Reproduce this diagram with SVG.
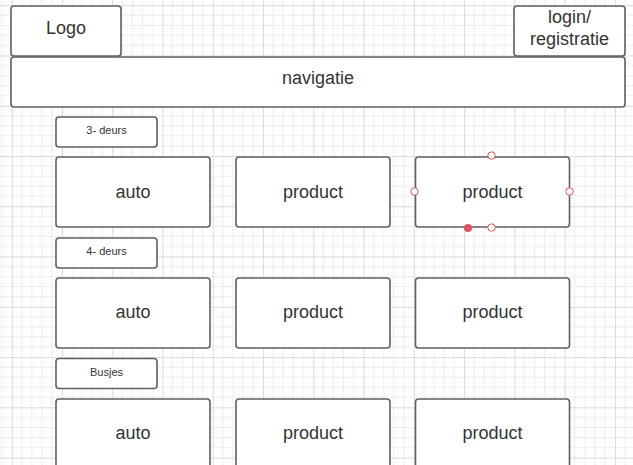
<svg xmlns="http://www.w3.org/2000/svg" width="633" height="465" viewBox="0 0 633 465">
<style>
.box{fill:#fff;stroke:#5f5f5f;stroke-width:1.6}
.t{font-family:"Liberation Sans",Arial,sans-serif;font-size:18px;fill:#333;text-anchor:middle}
.s{font-family:"Liberation Sans",Arial,sans-serif;font-size:11px;fill:#333;text-anchor:middle}
.h{fill:#fff;stroke:#e0525f;stroke-width:1}
</style>
<defs>
<pattern id="grid" x="11.7" y="5.2" width="50.27" height="50.27" patternUnits="userSpaceOnUse">
<path d="M10.05 0V50.27M20.1 0V50.27M30.16 0V50.27M40.21 0V50.27M0 10.05H50.27M0 20.1H50.27M0 30.16H50.27M0 40.21H50.27" stroke="#ececec" stroke-width="1" fill="none"/>
<path d="M0.5 0V50.27M0 0.5H50.27" stroke="#dadada" stroke-width="1" fill="none"/>
</pattern>
</defs>
<rect width="633" height="465" fill="#fff"/>
<rect width="633" height="465" fill="url(#grid)"/>
<g id="logo"><rect class="box" x="11" y="6" width="110" height="50" rx="3"/><text class="t" x="66" y="34">Logo</text></g>
<g id="login"><rect class="box" x="514" y="6" width="111" height="50" rx="3"/><text class="t" x="569.5" y="23">login/</text><text class="t" x="569.5" y="45">registratie</text></g>
<g id="navigatie"><rect class="box" x="11" y="57" width="614" height="50" rx="3"/><text class="t" x="318" y="84">navigatie</text></g>
<g id="label-3deurs"><rect class="box" x="56" y="117" width="101" height="30" rx="3"/><text class="s" x="106.5" y="134">3- deurs</text></g>
<g id="auto-1"><rect class="box" x="56" y="157" width="154" height="70" rx="3"/><text class="t" x="133" y="198">auto</text></g>
<g id="product-1-2"><rect class="box" x="236" y="157" width="154" height="70" rx="3"/><text class="t" x="313" y="198">product</text></g>
<g id="product-1-3"><rect class="box" x="415.5" y="157" width="154" height="70" rx="3"/><text class="t" x="492.5" y="198">product</text>
<circle class="h" cx="491.5" cy="155.5" r="3.7"/><circle class="h" cx="414.5" cy="191.5" r="3.7"/><circle class="h" cx="569.5" cy="191.5" r="3.7"/><circle class="h" cx="491.5" cy="227.5" r="3.7"/><circle cx="468" cy="228" r="4" fill="#e0525f"/></g>
<g id="label-4deurs"><rect class="box" x="56" y="238" width="101" height="30" rx="3"/><text class="s" x="106.5" y="255">4- deurs</text></g>
<g id="auto-2"><rect class="box" x="56" y="278" width="154" height="70" rx="3"/><text class="t" x="133" y="318">auto</text></g>
<g id="product-2-2"><rect class="box" x="236" y="278" width="154" height="70" rx="3"/><text class="t" x="313" y="318">product</text></g>
<g id="product-2-3"><rect class="box" x="415.5" y="278" width="154" height="70" rx="3"/><text class="t" x="492.5" y="318">product</text></g>
<g id="label-busjes"><rect class="box" x="56" y="358.5" width="101" height="30" rx="3"/><text class="s" x="106.5" y="375.5">Busjes</text></g>
<g id="auto-3"><rect class="box" x="56" y="399" width="154" height="70" rx="3"/><text class="t" x="133" y="439">auto</text></g>
<g id="product-3-2"><rect class="box" x="236" y="399" width="154" height="70" rx="3"/><text class="t" x="313" y="439">product</text></g>
<g id="product-3-3"><rect class="box" x="415.5" y="399" width="154" height="70" rx="3"/><text class="t" x="492.5" y="439">product</text></g>
<g id="connectors"></g>
</svg>
